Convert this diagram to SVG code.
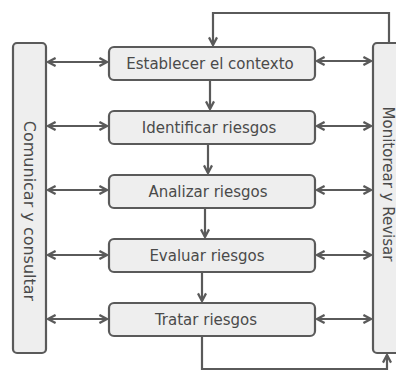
<svg xmlns="http://www.w3.org/2000/svg" width="396" height="371" viewBox="0 0 396 371">
<style>
.box{fill:#eeeeee;stroke:#5a5a5a;stroke-width:2.2}
.lbl{font-family:"DejaVu Sans",sans-serif;font-size:15px;fill:#4a4a4a;text-anchor:middle}
.ln{fill:none;stroke:#5a5a5a;stroke-width:2.2}
.a2{marker-start:url(#ah);marker-end:url(#ah)}
.a1{marker-end:url(#ah)}
</style>
<defs>
<marker id="ah" viewBox="0 0 8 8" refX="7" refY="4" markerWidth="4.6" markerHeight="4.6" orient="auto-start-reverse" markerUnits="strokeWidth">
<path d="M1,0.8 L7,4 L1,7.2" fill="none" stroke="#5a5a5a" stroke-width="1.8"/>
</marker>
</defs>
<rect width="396" height="371" fill="#ffffff"/>
<g id="comunicar">
<rect class="box" x="13" y="43" width="33" height="310" rx="4"/>
<text class="lbl" transform="translate(23.5,211) rotate(90)" style="font-size:16px">Comunicar y consultar</text>
</g>
<g id="monitorear">
<rect class="box" x="373" y="43" width="40" height="310" rx="4"/>
<text class="lbl" transform="translate(383,184) rotate(90)">Monitorear y Revisar</text>
</g>
<g id="establecer">
<rect class="box" x="109" y="47" width="206" height="33" rx="5"/>
<text class="lbl" x="210" y="69">Establecer el contexto</text>
</g>
<g id="identificar">
<rect class="box" x="109" y="111" width="206" height="33" rx="5"/>
<text class="lbl" x="209" y="133">Identificar riesgos</text>
</g>
<g id="analizar">
<rect class="box" x="109" y="175" width="206" height="33" rx="5"/>
<text class="lbl" x="208" y="197">Analizar riesgos</text>
</g>
<g id="evaluar">
<rect class="box" x="109" y="239" width="206" height="33" rx="5"/>
<text class="lbl" x="207" y="261">Evaluar riesgos</text>
</g>
<g id="tratar">
<rect class="box" x="109" y="303" width="206" height="33" rx="5"/>
<text class="lbl" x="206" y="325">Tratar riesgos</text>
</g>
<g id="connectors">
<line class="ln a2" x1="48" y1="62" x2="107" y2="62"/>
<line class="ln a2" x1="48" y1="126" x2="107" y2="126"/>
<line class="ln a2" x1="48" y1="190" x2="107" y2="190"/>
<line class="ln a2" x1="48" y1="255" x2="107" y2="255"/>
<line class="ln a2" x1="48" y1="319" x2="107" y2="319"/>
<line class="ln a2" x1="317" y1="61" x2="371" y2="61"/>
<line class="ln a2" x1="317" y1="126" x2="371" y2="126"/>
<line class="ln a2" x1="317" y1="190" x2="371" y2="190"/>
<line class="ln a2" x1="317" y1="255" x2="371" y2="255"/>
<line class="ln a2" x1="317" y1="319" x2="371" y2="319"/>
<line class="ln a1" x1="210" y1="81" x2="210" y2="109"/>
<line class="ln a1" x1="208" y1="145" x2="208" y2="173"/>
<line class="ln a1" x1="205" y1="209" x2="205" y2="237"/>
<line class="ln a1" x1="202" y1="273" x2="202" y2="301"/>
<polyline class="ln a1" points="389,43 389,13 213,13 213,45"/>
<polyline class="ln a1" points="202,337 202,369 387,369 387,355"/>
</g>
</svg>
